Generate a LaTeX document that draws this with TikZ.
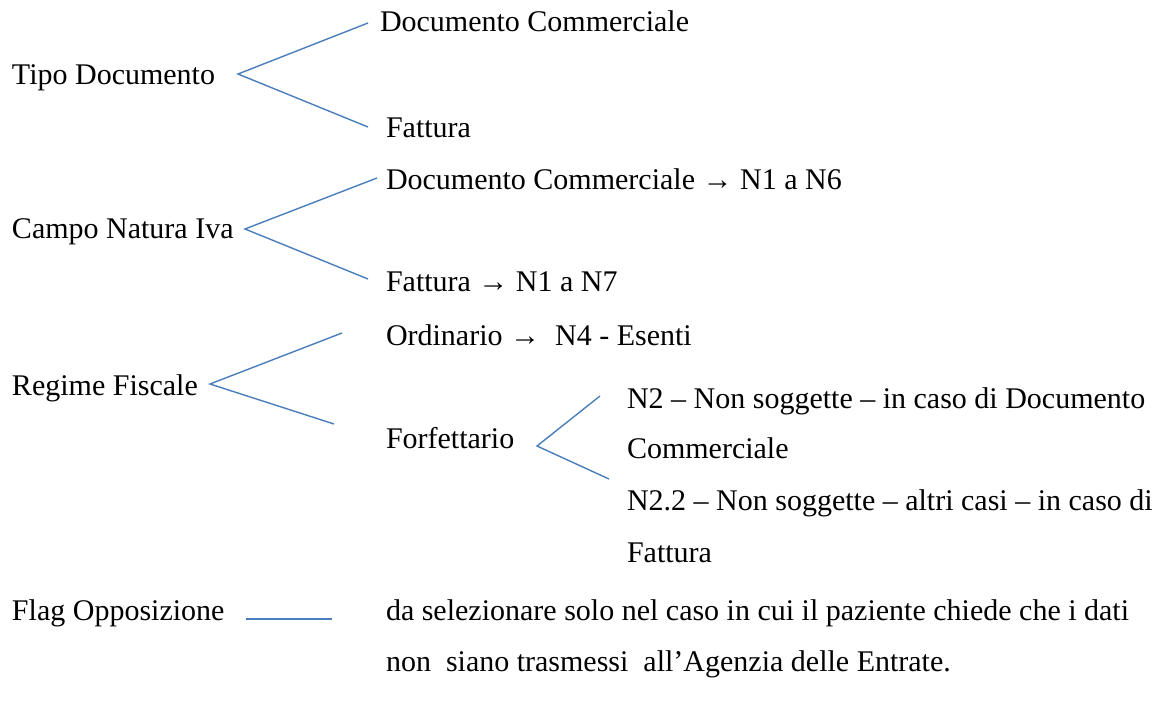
\documentclass[tikz,border=0pt]{standalone}
\usepackage{fontspec}
\setmainfont{Liberation Serif}
\begin{document}
\begin{tikzpicture}[x=1pt,y=-1pt,
  lbl/.style={anchor=base west,inner sep=0pt,outer sep=0pt,font=\fontsize{30}{36}\selectfont},
  conn/.style={draw=linkblue,line width=1.4pt}]
\definecolor{linkblue}{HTML}{4A7EBB}
\useasboundingbox (0,0) rectangle (1155,706);
% texts
\node[lbl] (tipo) at (12,85) {Tipo Documento};
\node[lbl] (tdoc) at (380,32) {Documento Commerciale};
\node[lbl] (tfat) at (386,137) {Fattura};
\node[lbl] (campo) at (12,238) {Campo Natura Iva};
\node[lbl] (cdoc) at (386,189) {Documento Commerciale → N1 a N6};
\node[lbl] (cfat) at (386,291) {Fattura → N1 a N7};
\node[lbl] (regime) at (12,395) {Regime Fiscale};
\node[lbl] (ord) at (386,345) {Ordinario →\ \ N4 - Esenti};
\node[lbl] (forf) at (386,448) {Forfettario};
\node[lbl] (n2a) at (627,408) {N2 – Non soggette – in caso di Documento};
\node[lbl] (n2b) at (627,458) {Commerciale};
\node[lbl] (n22a) at (627,510) {N2.2 – Non soggette – altri casi – in caso di};
\node[lbl] (n22b) at (627,562) {Fattura};
\node[lbl] (flag) at (12,620) {Flag Opposizione};
\node[lbl] (desca) at (386,620) {da selezionare solo nel caso in cui il paziente chiede che i dati};
\node[lbl] (descb) at (386,671) {non\ \ siano trasmessi\ \ all’Agenzia delle Entrate.};
% connector points
\coordinate (tipoV) at (238,74);
\coordinate (tdocE) at (368,23);
\coordinate (tfatE) at (368,127);
\coordinate (campoV) at (245,229);
\coordinate (cdocE) at (377,178);
\coordinate (cfatE) at (368,279);
\coordinate (regV) at (210,384);
\coordinate (ordE) at (342,333);
\coordinate (forfE) at (334,424);
\coordinate (forfV) at (537,446);
\coordinate (n2E) at (600,396);
\coordinate (n22E) at (609,479);
\coordinate (flagA) at (246,619);
\coordinate (flagB) at (332,619);
% connectors
\draw[conn] (tdocE) -- (tipoV) -- (tfatE);
\draw[conn] (cdocE) -- (campoV) -- (cfatE);
\draw[conn] (ordE) -- (regV) -- (forfE);
\draw[conn] (n2E) -- (forfV) -- (n22E);
\draw[conn] (flagA) -- (flagB);
\end{tikzpicture}
\end{document}
